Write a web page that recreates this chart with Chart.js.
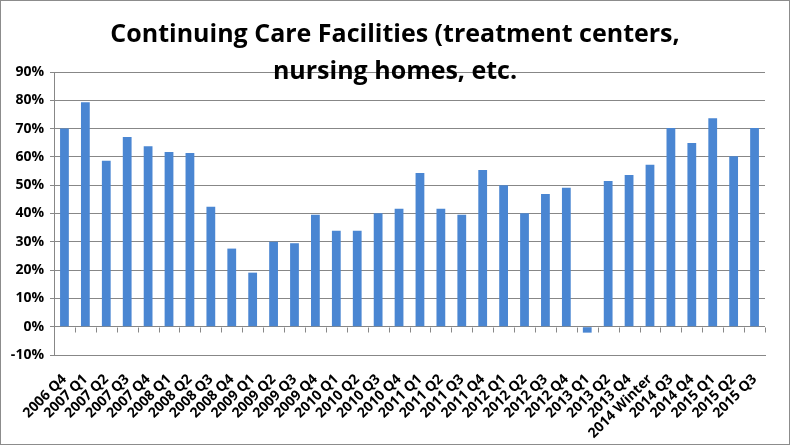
<!DOCTYPE html>
<html>
<head>
<meta charset="utf-8">
<script src="https://cdn.jsdelivr.net/npm/chart.js@4/dist/chart.umd.min.js"></script>
<style>
  html, body { margin: 0; padding: 0; background: #fff; }
  #wrap { position: relative; width: 790px; height: 445px; box-sizing: border-box; border: 1px solid #8c8c8c; }
  canvas { display: block; }
</style>
</head>
<body>
<div id="wrap"><canvas id="chart" width="788" height="443"></canvas></div>
<script>
const categories = [
    '2006 Q4', '2007 Q1', '2007 Q2', '2007 Q3', '2007 Q4', '2008 Q1', '2008 Q2', '2008 Q3',
    '2008 Q4', '2009 Q1', '2009 Q2', '2009 Q3', '2009 Q4', '2010 Q1', '2010 Q2', '2010 Q3',
    '2010 Q4', '2011 Q1', '2011 Q2', '2011 Q3', '2011 Q4', '2012 Q1', '2012 Q2', '2012 Q3',
    '2012 Q4', '2013 Q1', '2013 Q2', '2013 Q4', '2014 Winter', '2014 Q3', '2014 Q4', '2015 Q1',
    '2015 Q2', '2015 Q3'
];
const values = [
    70, 79.3, 58.6, 67, 63.8, 61.7, 61.4, 42.4,
    27.6, 19.1, 30, 29.5, 39.6, 33.9, 33.9, 40.1,
    41.7, 54.3, 41.7, 39.6, 55.4, 50, 40.1, 46.9,
    49.1, -2.1, 51.5, 53.6, 57.2, 70.2, 64.9, 73.7,
    60.2, 70.2
];
const titleLines = ['Continuing Care Facilities (treatment centers,', 'nursing homes, etc.'];
const yMin = -10;
const yMax = 90;
const yStep = 10;

const gridColor = '#878787';
const labelFont = { family: 'Open Sans', size: 14, weight: 'bold' };

// title sits over the top of the plot, like the original
const titlePlugin = {
    id: 'overTitle',
    afterDraw(chart) {
        const ctx = chart.ctx;
        ctx.save();
        ctx.font = 'bold 25px "Open Sans"';
        ctx.fillStyle = '#000';
        ctx.textAlign = 'center';
        ctx.textBaseline = 'alphabetic';
        ctx.fillText(titleLines[0], chart.width / 2, 41);
        ctx.fillText(titleLines[1], chart.width / 2, 78);
        ctx.restore();
    }
};

// small tick marks hanging from the 0% line between categories
const zeroTicks = {
    id: 'zeroTicks',
    afterDatasetsDraw(chart) {
        const x = chart.scales.x, y = chart.scales.y;
        const y0 = Math.round(y.getPixelForValue(0)) + 0.5;
        const ctx = chart.ctx;
        ctx.save();
        ctx.strokeStyle = gridColor;
        ctx.lineWidth = 1;
        ctx.beginPath();
        for (let i = 0; i <= categories.length; i++) {
            const px = Math.round(x.left + (x.right - x.left) * i / categories.length) + 0.5;
            ctx.moveTo(px, y0);
            ctx.lineTo(px, y0 + 5);
        }
        ctx.stroke();
        ctx.restore();
    }
};

new Chart(document.getElementById('chart'), {
    type: 'bar',
    data: {
        labels: categories,
        datasets: [{
            data: values,
            backgroundColor: '#4a86d2',
            barPercentage: 0.42,
            categoryPercentage: 1
        }]
    },
    options: {
        responsive: false,
        animation: false,
        layout: { padding: { top: 71, right: 24, left: 0, bottom: 0 } },
        plugins: {
            legend: { display: false },
            tooltip: { enabled: false }
        },
        scales: {
            x: {
                grid: { display: false },
                border: { display: true, color: gridColor },
                ticks: {
                    color: '#000',
                    font: labelFont,
                    minRotation: 45,
                    maxRotation: 45,
                    autoSkip: false,
                    padding: 8
                },
                afterFit(scale) { scale.height = 89; }
            },
            y: {
                min: yMin,
                max: yMax,
                ticks: {
                    stepSize: yStep,
                    color: '#000',
                    font: labelFont,
                    padding: 6,
                    callback: v => v + '%'
                },
                grid: { color: gridColor, tickLength: 4 },
                border: { color: gridColor },
                afterFit(scale) { scale.width = 53; }
            }
        }
    },
    plugins: [zeroTicks, titlePlugin]
});
</script>
</body>
</html>
